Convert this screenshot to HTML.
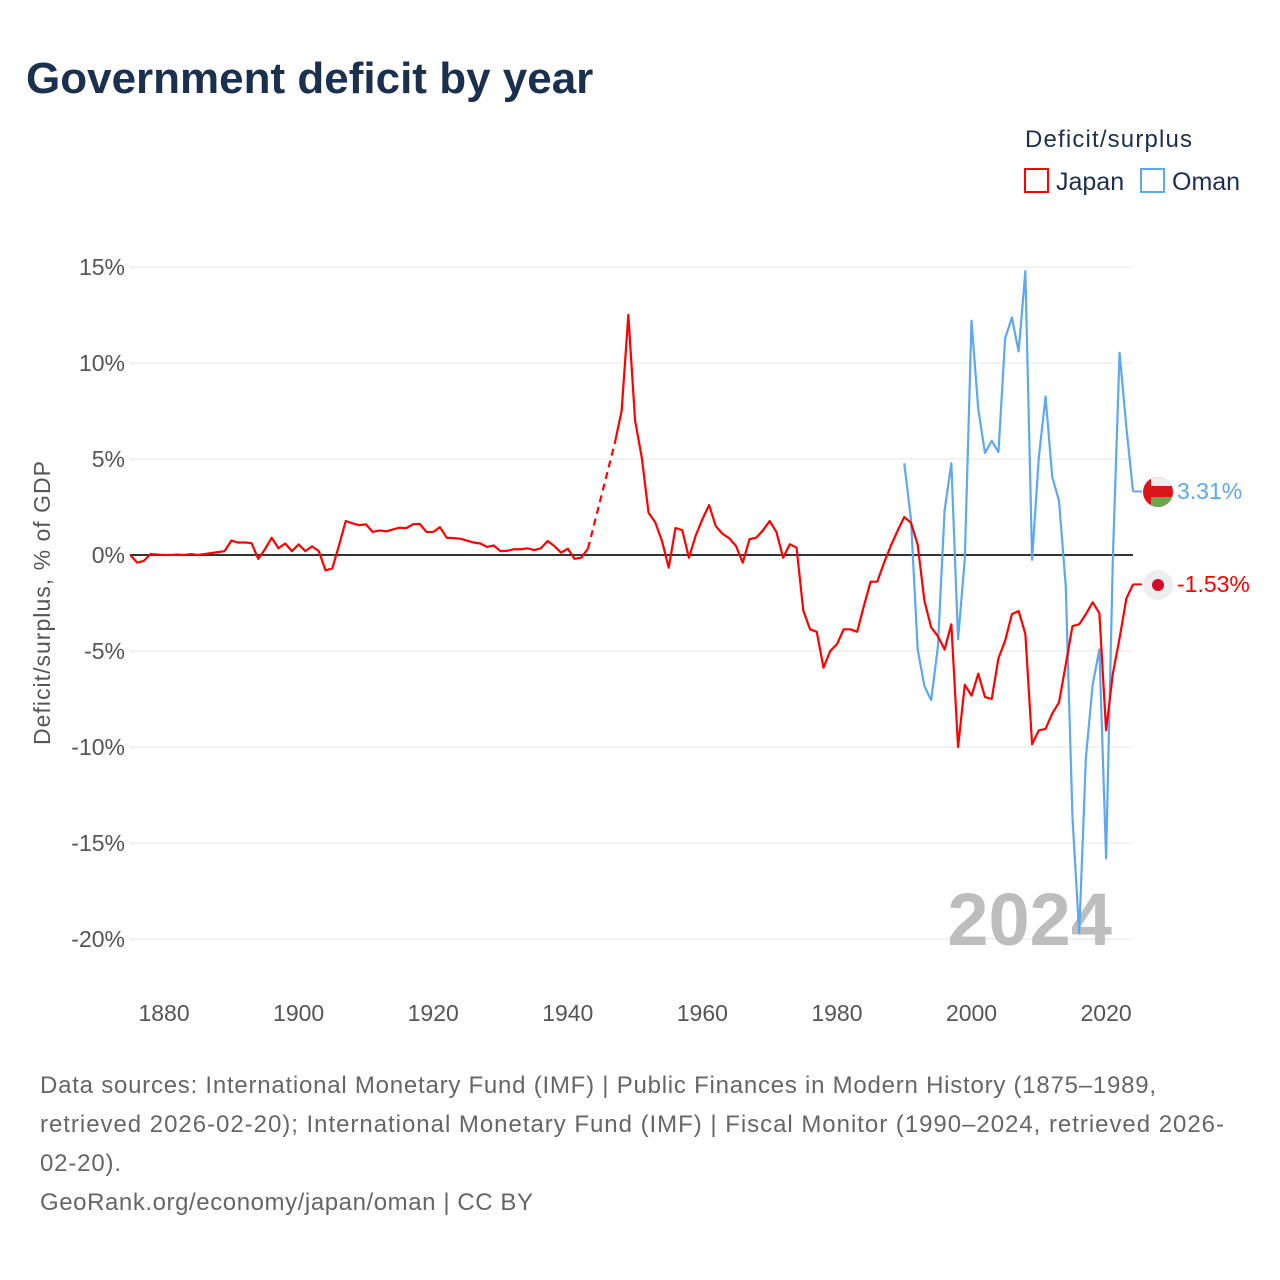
<!DOCTYPE html>
<html><head><meta charset="utf-8">
<style>
body{margin:0;background:#fff;font-family:"Liberation Sans",sans-serif;}
#wrap{position:relative;width:1280px;height:1280px;overflow:hidden;}
</style></head>
<body>
<div id="wrap">
<svg id="chart" width="1280" height="1280">
  <text x="26" y="93" font-size="44" font-weight="bold" fill="#1b2f4e">Government deficit by year</text>
  <text x="1025" y="147" font-size="24" fill="#1b2f4e" textLength="167">Deficit/surplus</text>
  <g>
    <rect x="1025" y="169" width="23" height="23" fill="none" stroke="#ff0000" stroke-width="2"/>
    <text x="1056" y="190" font-size="25" fill="#1b2f4e">Japan</text>
  </g>
  <g>
    <rect x="1141" y="169" width="23" height="23" fill="none" stroke="#5ea8ee" stroke-width="2"/>
    <text x="1172" y="190" font-size="25" fill="#1b2f4e">Oman</text>
  </g>
  <g id="grid"></g>
  <g id="yticks"></g>
  <g id="xticks"></g>
  <text transform="translate(50,603) rotate(-90)" text-anchor="middle" font-size="23" fill="#555" textLength="284">Deficit/surplus, % of GDP</text>
  <text x="1112" y="945" text-anchor="end" font-size="74" font-weight="bold" fill="#bdbdbd">2024</text>
  <g id="series"></g>
  <g>
    <clipPath id="cO"><circle cx="1158" cy="492" r="15"/></clipPath>
    <g clip-path="url(#cO)">
      <rect x="1143" y="477" width="30" height="30" fill="#db161b"/>
      <rect x="1151" y="477" width="22" height="9" fill="#eee"/>
      <rect x="1151" y="497" width="22" height="10" fill="#6aa84f"/>
    </g>
    <text x="1177" y="499" font-size="23" fill="#5ea8ee">3.31%</text>
  </g>
  <g>
    <circle cx="1158" cy="585" r="15" fill="#eee"/>
    <circle cx="1158" cy="585" r="6" fill="#d00c27"/>
    <text x="1177" y="592" font-size="23" fill="#ff0000">-1.53%</text>
  </g>
  <text x="40" y="1093" font-size="24" fill="#666" textLength="1116">Data sources: International Monetary Fund (IMF) | Public Finances in Modern History (1875–1989,</text>
  <text x="40" y="1132" font-size="24" fill="#666" textLength="1184">retrieved 2026-02-20); International Monetary Fund (IMF) | Fiscal Monitor (1990–2024, retrieved 2026-</text>
  <text x="40" y="1171" font-size="24" fill="#666" textLength="81">02-20).</text>
  <text x="40" y="1210" font-size="24" fill="#666" textLength="493">GeoRank.org/economy/japan/oman | CC BY</text>
</svg>
</div>
<script>
const yTicks=[15,10,5,0,-5,-10,-15,-20];
const xTicks=[1880,1900,1920,1940,1960,1980,2000,2020];
const japanStart=1875;
const japanValues=[0,-0.4,-0.3,0.05,0.02,0,0,0.02,0,0.05,0,0.05,0.1,0.15,0.2,0.75,0.65,0.65,0.62,-0.2,0.3,0.9,0.35,0.6,0.2,0.55,0.2,0.45,0.2,-0.8,-0.7,0.5,1.77,1.65,1.55,1.6,1.2,1.28,1.23,1.33,1.42,1.4,1.6,1.62,1.2,1.2,1.45,0.9,0.88,0.85,0.75,0.65,0.6,0.42,0.5,0.2,0.22,0.3,0.3,0.35,0.26,0.35,0.73,0.47,0.12,0.33,-0.2,-0.14,0.33,null,null,null,5.85,7.5,12.5,7.0,5.07,2.2,1.7,0.73,-0.66,1.4,1.3,-0.14,1.0,1.86,2.6,1.5,1.1,0.87,0.47,-0.4,0.82,0.9,1.28,1.77,1.2,-0.14,0.56,0.38,-2.9,-3.87,-4.0,-5.87,-5.0,-4.65,-3.87,-3.87,-4.0,-2.66,-1.39,-1.39,-0.4,0.47,1.25,1.98,1.68,0.53,-2.39,-3.77,-4.23,-4.92,-3.61,-10.0,-6.76,-7.33,-6.18,-7.4,-7.5,-5.38,-4.46,-3.08,-2.92,-4.11,-9.86,-9.13,-9.06,-8.25,-7.68,-5.72,-3.7,-3.61,-3.08,-2.46,-3.03,-9.13,-6.18,-4.34,-2.28,-1.53];
const omanStart=1990;
const omanValues=[4.78,1.86,-4.92,-6.83,-7.56,-4.8,2.32,4.78,-4.39,-0.2,12.2,7.6,5.31,5.95,5.36,11.29,12.37,10.6,14.78,-0.25,5.08,8.25,4.05,2.83,-1.59,-13.66,-19.7,-10.55,-6.76,-4.92,-15.8,-0.2,10.53,6.69,3.31];

const X=yr=>130.4+(yr-1875)*6.729;
const Y=v=>555-v*19.2;
const NS="http://www.w3.org/2000/svg";
function mk(tag,attrs,parent){const e=document.createElementNS(NS,tag);for(const k in attrs)e.setAttribute(k,attrs[k]);parent.appendChild(e);return e;}
const grid=document.getElementById('grid'),yt=document.getElementById('yticks'),xt=document.getElementById('xticks'),ser=document.getElementById('series');
yTicks.forEach(v=>{
  if(v!==0){const l=mk('line',{x1:130,x2:1133,y1:Y(v),y2:Y(v),stroke:'#e6e6e6','stroke-width':1},grid);
  
  }
  const t=mk('text',{x:125,y:Y(v)+8,'text-anchor':'end','font-size':23,fill:'#555'},yt);
  t.textContent=v+'%';
  
  
});
xTicks.forEach(yr=>{
  const t=mk('text',{x:X(yr),y:1021,'text-anchor':'middle','font-size':23,fill:'#555'},xt);
  t.textContent=yr;
  
  
});
const zl=mk('line',{x1:130,x2:1133,y1:Y(0),y2:Y(0),stroke:'#333','stroke-width':2},grid);



function draw(start,vals,color,name){
  let segs=[],cur=[],prev=null;
  vals.forEach((v,i)=>{
    if(v===null){if(cur.length){segs.push(cur);prev=cur[cur.length-1];cur=[];}return;}
    const p=[X(start+i),Y(v)];
    if(!cur.length&&prev){const d=mk('path',{d:`M${prev[0]},${prev[1]}L${p[0]},${p[1]}`,fill:'none',stroke:color,'stroke-width':2.2,'stroke-dasharray':'7,5'},ser);
      
      prev=null;}
    cur.push(p);
  });
  if(cur.length)segs.push(cur);
  const last=segs[segs.length-1][segs[segs.length-1].length-1];
  segs.forEach(s=>{
    const path=mk('path',{d:'M'+s.map(p=>p.join(',')).join('L'),fill:'none',stroke:color,'stroke-width':2.2,'stroke-linejoin':'round'},ser);
    
    
  });
  const c=mk('path',{d:`M${last[0]},${last[1]}L1142,${last[1]}`,fill:'none',stroke:color,'stroke-width':2},ser);
  
  
}
draw(omanStart,omanValues,'#5ea8ee','oman');
draw(japanStart,japanValues,'#ff0000','japan');
</script>
</body></html>
